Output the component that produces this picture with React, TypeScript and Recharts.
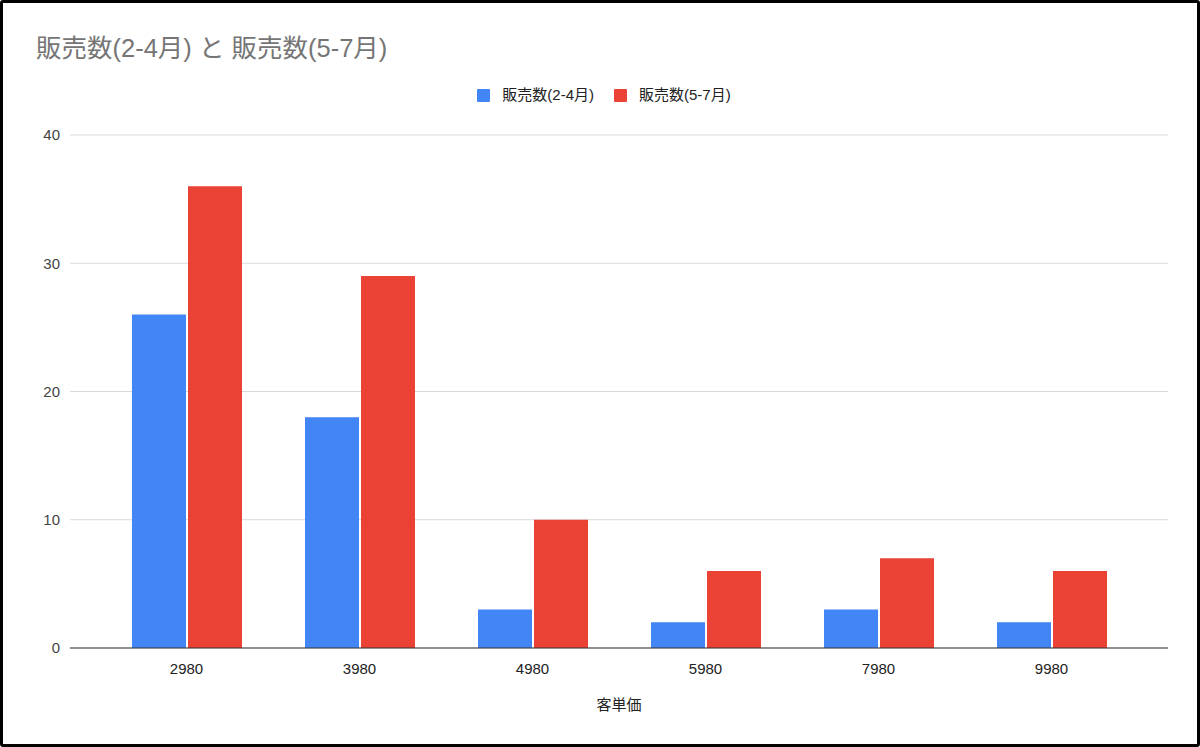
import React from 'react';
import { BarChart, Bar, XAxis, YAxis, CartesianGrid, Label } from 'recharts';

const categories = ['2980', '3980', '4980', '5980', '7980', '9980'];
const salesFebApr = [26, 18, 3, 2, 3, 2];
const salesMayJul = [36, 29, 10, 6, 7, 6];
const yTicks = [0, 10, 20, 30, 40];

const series = [
  { key: 'a', name: '販売数(2-4月)', color: '#4285f4', values: salesFebApr },
  { key: 'b', name: '販売数(5-7月)', color: '#ea4335', values: salesMayJul },
];

const data = categories.map((c, i) => ({
  price: c,
  a: salesFebApr[i],
  b: salesMayJul[i],
}));

const FONT = "'Liberation Sans', Arial, 'Noto Sans CJK JP', sans-serif";

export default function App() {
  return (
    <div
      style={{
        position: 'fixed',
        top: 0,
        left: 0,
        width: 1200,
        height: 747,
        background: '#fff',
        fontFamily: FONT,
      }}
    >
      <div
        style={{
          position: 'absolute',
          left: 36,
          top: 32,
          fontSize: 25.5,
          color: '#757575',
          lineHeight: '32px',
          whiteSpace: 'nowrap',
        }}
      >
        販売数(2-4月) と 販売数(5-7月)
      </div>
      <div
        style={{
          position: 'absolute',
          left: 0,
          width: 1200,
          top: 85,
          display: 'flex',
          justifyContent: 'center',
          paddingLeft: 8,
          boxSizing: 'border-box',
          fontSize: 15,
          color: '#222',
          lineHeight: '20px',
        }}
      >
        {series.map((s) => (
          <div key={s.key} style={{ display: 'flex', alignItems: 'center', margin: '0 10px' }}>
            <span style={{ width: 13, height: 13, background: s.color, marginRight: 12, borderRadius: 1 }} />
            {s.name}
          </div>
        ))}
      </div>
      <div style={{ position: 'absolute', left: 0, top: 0 }}>
        <BarChart
          width={1200}
          height={747}
          data={data}
          margin={{ top: 135, right: 32, bottom: 37, left: 0 }}
          barGap={2}
          barSize={54}
        >
          <CartesianGrid vertical={false} stroke="#d9d9d9" />
          <XAxis
            dataKey="price"
            padding={{ left: 30, right: 30 }}
            axisLine={{ stroke: '#333', strokeWidth: 1 }}
            tickLine={false}
            tickMargin={9}
            height={62}
            tick={{ fill: '#222', fontSize: 15, fontFamily: FONT }}
          >
            <Label
              value="客単価"
              position="insideBottom"
              offset={0}
              style={{ fill: '#222', fontSize: 15, fontFamily: FONT }}
            />
          </XAxis>
          <YAxis
            width={70}
            domain={[0, 40]}
            ticks={yTicks}
            axisLine={false}
            tickLine={false}
            tickSize={0}
            tickMargin={10}
            tick={{ fill: '#444', fontSize: 15, fontFamily: FONT }}
          />
          {series.map((s) => (
            <Bar key={s.key} dataKey={s.key} name={s.name} fill={s.color} isAnimationActive={false} />
          ))}
        </BarChart>
      </div>
      <div
        style={{
          position: 'absolute',
          inset: 0,
          border: '3px solid #000',
          borderRadius: 3,
          pointerEvents: 'none',
        }}
      />
    </div>
  );
}
